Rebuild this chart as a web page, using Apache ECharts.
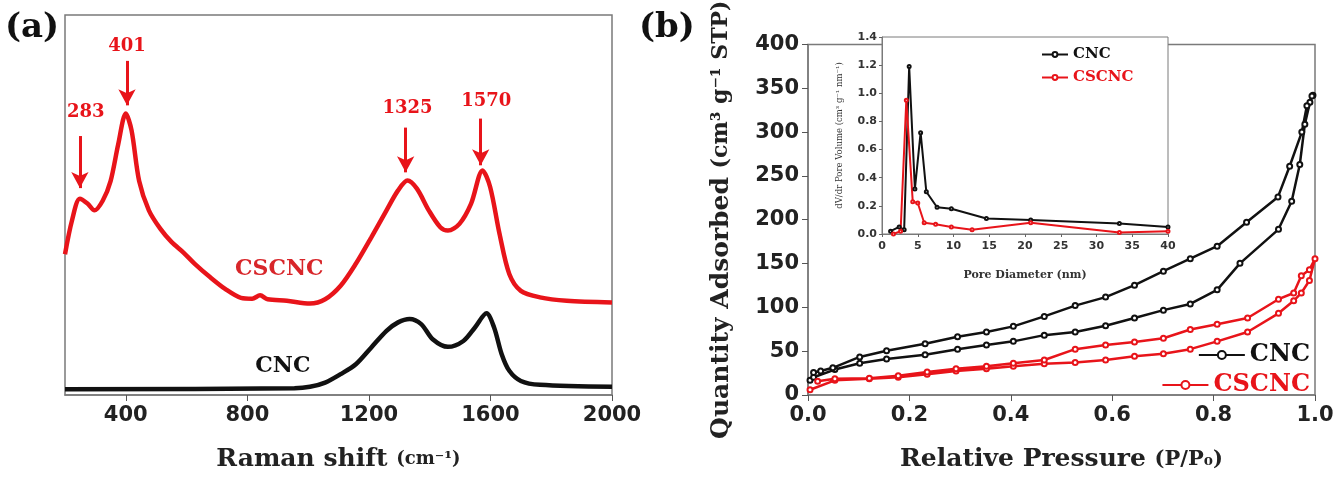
<!DOCTYPE html>
<html>
<head>
<meta charset="utf-8">
<script src="https://cdn.jsdelivr.net/npm/echarts@6/dist/echarts.min.js"></script>
<style>
  html, body { margin: 0; padding: 0; background: #fff; }
  #chart-container { width: 1339px; height: 477px; }
</style>
</head>
<body>
<div id="chart-container"></div>
<script>
// (a) Raman spectra
var cscncShift = [200, 223, 249, 274, 297, 324, 350, 375, 400, 419, 444, 476, 514, 551, 589, 627, 678, 728, 779, 816, 842, 867, 930, 1006, 1056, 1107, 1157, 1208, 1258, 1296, 1327, 1358, 1397, 1435, 1460, 1498, 1536, 1574, 1599, 1630, 1662, 1700, 1763, 1851, 2000];
var cscncInt = [50, 62, 69.7, 68, 65.6, 69, 76, 89, 100, 94, 76, 65.6, 59, 54.3, 50.7, 46.6, 41.8, 37.6, 34.5, 34.2, 35.4, 34, 33.5, 32.5, 34, 38.8, 46.6, 56, 65.6, 72.7, 76.2, 73.3, 65.6, 59.6, 58.4, 60.8, 67.9, 79.8, 73.9, 57.2, 43, 37, 34.7, 33.5, 32.9];
var cncShift = [200, 955, 1006, 1056, 1107, 1157, 1208, 1258, 1296, 1334, 1372, 1410, 1460, 1511, 1549, 1587, 1612, 1637, 1662, 1700, 1763, 2000];
var cncInt = [2, 2.4, 2.9, 4.4, 7.4, 10.9, 16.9, 22.8, 25.8, 27, 25.2, 19.8, 17.1, 19.2, 24, 29, 24, 14.5, 8.6, 5, 3.6, 2.9];
var ramanTicks = [400, 800, 1200, 1600, 2000];
// peak arrows: [label, arrow x, arrow top, arrow tip, label x, label y]
var peakMarks = [
  ["283", 249, 92, 73.5, 268, 100.4],
  ["401", 404, 118.7, 102.9, 404, 124],
  ["1325", 1321, 95, 79.1, 1327, 102],
  ["1570", 1568, 98.2, 81.6, 1586, 104.2]
];

// (b) N2 isotherms
var cncAdsP = [0.004, 0.011, 0.053, 0.102, 0.155, 0.231, 0.295, 0.352, 0.405, 0.466, 0.527, 0.587, 0.644, 0.701, 0.754, 0.807, 0.852, 0.928, 0.954, 0.970, 0.980, 0.990, 0.996];
var cncAdsQ = [16.7, 20.3, 29, 36.3, 41, 46, 52.3, 57, 61.2, 68.3, 71.9, 79, 87.9, 96.8, 103.9, 120, 150.2, 189, 221, 263, 309, 334, 342];
var cncDesP = [0.994, 0.984, 0.974, 0.950, 0.927, 0.865, 0.807, 0.754, 0.701, 0.644, 0.587, 0.527, 0.466, 0.405, 0.352, 0.295, 0.231, 0.155, 0.102, 0.049, 0.025, 0.011];
var cncDesQ = [341, 330, 300, 261, 226, 197, 169.8, 155.5, 141.3, 125.3, 111.7, 102, 89.7, 78.3, 71.9, 66.5, 58.4, 50.5, 43.4, 31, 27.4, 25.6];
var cscncAdsP = [0.004, 0.053, 0.121, 0.178, 0.235, 0.292, 0.352, 0.405, 0.466, 0.527, 0.587, 0.644, 0.701, 0.754, 0.807, 0.867, 0.928, 0.958, 0.973, 0.989, 1.0];
var cscncAdsQ = [6, 16.7, 18.5, 20.3, 23.8, 27.4, 29.9, 32.7, 35.6, 37, 39.9, 44.1, 47, 52.3, 61.2, 71.9, 93.2, 107.5, 116.4, 130.6, 155.5];
var cscncDesP = [0.989, 0.973, 0.958, 0.928, 0.867, 0.807, 0.754, 0.701, 0.644, 0.587, 0.527, 0.466, 0.405, 0.352, 0.292, 0.235, 0.178, 0.121, 0.053, 0.019];
var cscncDesQ = [143, 136, 116.4, 109.3, 87.9, 80.8, 74.7, 64.8, 60.5, 57, 52.3, 39.9, 36.3, 32.7, 29.9, 26.3, 22, 19.2, 18.5, 15.7];

// inset: pore size distribution
var cncPoreD = [1.2, 2.4, 3.1, 3.8, 4.6, 5.4, 6.2, 7.7, 9.7, 14.6, 20.8, 33.2, 40];
var cncPoreV = [0.02, 0.05, 0.03, 1.19, 0.32, 0.72, 0.30, 0.19, 0.18, 0.11, 0.10, 0.075, 0.05];
var cscncPoreD = [1.6, 2.6, 3.4, 4.3, 5.0, 5.9, 7.5, 9.7, 12.6, 20.8, 33.2, 40];
var cscncPoreV = [0.0, 0.02, 0.95, 0.23, 0.22, 0.08, 0.07, 0.05, 0.03, 0.08, 0.01, 0.02];

var RED = "#e8141a";
var BLACK = "#111";
var BOX = "#7a7a7a";
var serif = "DejaVu Serif";
var sans = "DejaVu Sans";

function pairs(xs, ys) {
  return xs.map(function (x, i) { return [x, ys[i]]; });
}

var dom = document.getElementById("chart-container");
var myChart = echarts.init(dom, null, { renderer: "canvas", useDirtyRect: false });

var tickLabel = { color: "#222", fontFamily: sans, fontWeight: "bold", fontSize: 21 };
var insetLabel = { color: "#333", fontFamily: sans, fontWeight: "bold", fontSize: 11 };

var option = {
  animation: false,
  backgroundColor: "#fff",
  title: [
    { text: "(a)", left: 0, top: 6, textStyle: { fontFamily: serif, fontWeight: "bold", fontSize: 34, color: BLACK } },
    { text: "(b)", left: 634, top: 6, textStyle: { fontFamily: serif, fontWeight: "bold", fontSize: 34, color: BLACK } }
  ],
  legend: [
    { data: [{ name: "CNC", textStyle: { color: BLACK } }], right: 24, top: 338, itemWidth: 46, itemHeight: 10,
      textStyle: { fontFamily: serif, fontWeight: "bold", fontSize: 24 } },
    { data: [{ name: "CSCNC", textStyle: { color: RED } }], right: 24, top: 368, itemWidth: 46, itemHeight: 10,
      textStyle: { fontFamily: serif, fontWeight: "bold", fontSize: 24 } },
    { data: [{ name: "CNC", textStyle: { color: BLACK } }], left: 1036, top: 42, z: 20, itemWidth: 26, itemHeight: 6,
      textStyle: { fontFamily: serif, fontWeight: "bold", fontSize: 15 } },
    { data: [{ name: "CSCNC", textStyle: { color: RED } }], left: 1036, top: 65, z: 20, itemWidth: 26, itemHeight: 6,
      textStyle: { fontFamily: serif, fontWeight: "bold", fontSize: 15 } }
  ],
  grid: [
    { left: 65, right: 727, top: 15, bottom: 81, show: true, borderColor: BOX, borderWidth: 1.5 },
    { left: 808, right: 24, top: 25, bottom: 79, show: true, borderColor: BOX, borderWidth: 1.5 },
    { left: 882, right: 171, top: 37, bottom: 243, show: true, borderColor: BOX, borderWidth: 1, backgroundColor: "#fff", z: 5 }
  ],
  xAxis: [
    {
      gridIndex: 0, type: "value", min: 200, max: 2000,
      axisLine: { lineStyle: { color: BOX, width: 1.5 } },
      axisTick: { length: 6, lineStyle: { color: "#555" }, customValues: ramanTicks },
      axisLabel: Object.assign({ margin: 10, customValues: ramanTicks, formatter: function (v) { return String(v); } }, tickLabel),
      splitLine: { show: false },
      name: "Raman shift {s|(cm⁻¹)}", nameLocation: "middle", nameGap: 52,
      nameTextStyle: { fontFamily: serif, fontWeight: "bold", fontSize: 25, color: "#222",
        rich: { s: { fontFamily: serif, fontWeight: "bold", fontSize: 18, color: "#222" } } }
    },
    {
      gridIndex: 1, type: "value", min: 0, max: 1, interval: 0.2,
      axisLine: { lineStyle: { color: BOX, width: 1.5 } },
      axisTick: { length: 6, lineStyle: { color: "#555" } },
      axisLabel: Object.assign({ margin: 10, formatter: function (v) { return v.toFixed(1); } }, tickLabel),
      splitLine: { show: false },
      name: "Relative Pressure {s|(P/P₀)}", nameLocation: "middle", nameGap: 52,
      nameTextStyle: { fontFamily: serif, fontWeight: "bold", fontSize: 25, color: "#222",
        rich: { s: { fontFamily: serif, fontWeight: "bold", fontSize: 21, color: "#222" } } }
    },
    {
      gridIndex: 2, type: "value", min: 0, max: 40, interval: 5, z: 6,
      axisLine: { lineStyle: { color: BOX } },
      axisTick: { length: 3, lineStyle: { color: "#666" } },
      axisLabel: Object.assign({ margin: 7 }, insetLabel),
      splitLine: { show: false },
      name: "Pore Diameter (nm)", nameLocation: "middle", nameGap: 36,
      nameTextStyle: { fontFamily: serif, fontWeight: "bold", fontSize: 11, color: "#333" }
    }
  ],
  yAxis: [
    {
      gridIndex: 0, type: "value", min: 0, max: 135, show: false, splitLine: { show: false }
    },
    {
      gridIndex: 1, type: "value", min: 0, max: 400, interval: 50,
      axisLine: { lineStyle: { color: BOX, width: 1.5 } },
      axisTick: { length: 6, lineStyle: { color: "#555" } },
      axisLabel: Object.assign({ margin: 9 }, tickLabel),
      splitLine: { show: false },
      name: "Quantity Adsorbed {s|(cm³ g⁻¹ STP)}", nameLocation: "middle", nameGap: 74,
      nameTextStyle: { fontFamily: serif, fontWeight: "bold", fontSize: 25, color: "#222",
        rich: { s: { fontFamily: serif, fontWeight: "bold", fontSize: 22, color: "#222" } } }
    },
    {
      gridIndex: 2, type: "value", min: 0, max: 1.4, interval: 0.2, z: 6,
      axisLine: { lineStyle: { color: BOX } },
      axisTick: { length: 3, lineStyle: { color: "#666" } },
      axisLabel: Object.assign({ margin: 5, formatter: function (v) { return v.toFixed(1); } }, insetLabel),
      splitLine: { show: false },
      name: "dV/dr Pore Volume (cm³ g⁻¹ nm⁻¹)", nameLocation: "middle", nameGap: 38,
      nameTextStyle: { fontFamily: serif, fontSize: 8.5, color: "#333" }
    }
  ],
  series: [
    {
      name: "CNC", type: "line", xAxisIndex: 1, yAxisIndex: 1,
      data: pairs(cncAdsP, cncAdsQ).concat(pairs(cncDesP, cncDesQ)),
      symbol: "emptyCircle", symbolSize: 5, showSymbol: true,
      lineStyle: { color: BLACK, width: 2.5 }, itemStyle: { color: BLACK, borderWidth: 1.5 }
    },
    {
      name: "CSCNC", type: "line", xAxisIndex: 1, yAxisIndex: 1,
      data: pairs(cscncAdsP, cscncAdsQ).concat(pairs(cscncDesP, cscncDesQ)),
      symbol: "emptyCircle", symbolSize: 5, showSymbol: true,
      lineStyle: { color: RED, width: 2.5 }, itemStyle: { color: RED, borderWidth: 1.5 }
    },
    {
      name: "Raman CSCNC", type: "line", xAxisIndex: 0, yAxisIndex: 0,
      data: pairs(cscncShift, cscncInt), smooth: 0.3, showSymbol: false,
      lineStyle: { color: RED, width: 4.5 },
      markLine: {
        silent: true, symbol: ["none", "arrow"], symbolSize: [13, 16],
        label: { show: false },
        lineStyle: { color: RED, width: 3, type: "solid" },
        data: peakMarks.map(function (p) { return [{ coord: [p[1], p[2]] }, { coord: [p[1], p[3]] }]; })
      },
      markPoint: {
        silent: true, symbol: "circle", symbolSize: 1, itemStyle: { color: "rgba(0,0,0,0)" },
        label: { show: true, position: "inside", formatter: "{b}", color: RED, fontFamily: serif, fontWeight: "bold", fontSize: 18 },
        data: peakMarks.map(function (p) { return { name: p[0], coord: [p[4], p[5]] }; }).concat([
          { name: "CSCNC", coord: [905, 44.8], label: { fontSize: 22, color: "#d8262a" } }
        ])
      }
    },
    {
      name: "Raman CNC", type: "line", xAxisIndex: 0, yAxisIndex: 0,
      data: pairs(cncShift, cncInt), smooth: 0.3, showSymbol: false,
      lineStyle: { color: BLACK, width: 4.5 },
      markPoint: {
        silent: true, symbol: "circle", symbolSize: 1, itemStyle: { color: "rgba(0,0,0,0)" },
        label: { show: true, position: "inside", formatter: "{b}", color: BLACK, fontFamily: serif, fontWeight: "bold", fontSize: 22 },
        data: [{ name: "CNC", coord: [917, 10.3] }]
      }
    },
    {
      name: "CNC", type: "line", xAxisIndex: 2, yAxisIndex: 2, z: 7,
      data: pairs(cncPoreD, cncPoreV),
      symbol: "emptyCircle", symbolSize: 3,
      lineStyle: { color: BLACK, width: 2 }, itemStyle: { color: BLACK }
    },
    {
      name: "CSCNC", type: "line", xAxisIndex: 2, yAxisIndex: 2, z: 7,
      data: pairs(cscncPoreD, cscncPoreV),
      symbol: "emptyCircle", symbolSize: 3,
      lineStyle: { color: RED, width: 2 }, itemStyle: { color: RED }
    }
  ]
};

myChart.setOption(option);
window.addEventListener("resize", myChart.resize);
</script>
</body>
</html>
